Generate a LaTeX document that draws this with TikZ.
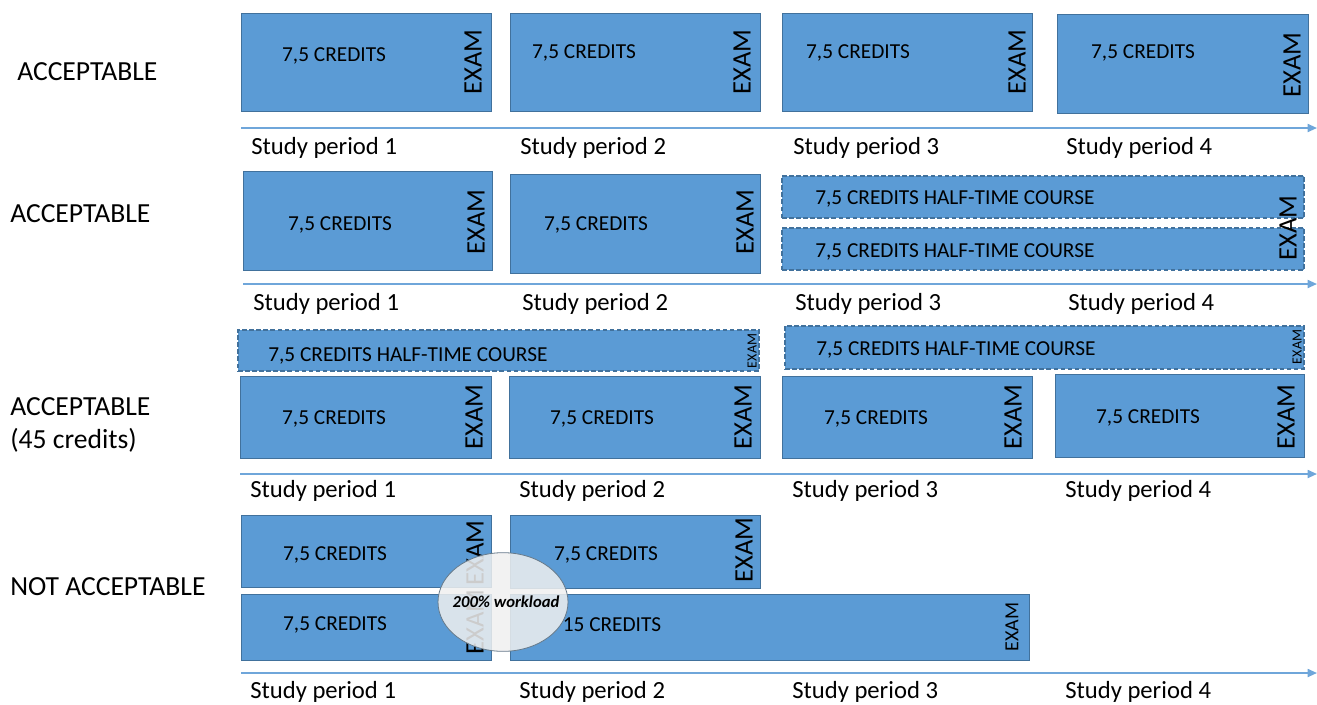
\documentclass[tikz,border=0pt]{standalone}
\usepackage{fontspec}
\setmainfont{Carlito}
\usepackage{xcolor}
\usepackage{tikz}
\usetikzlibrary{fit,shapes.geometric,arrows.meta}
\definecolor{boxblue}{HTML}{5B9BD5}
\definecolor{edgeblue}{HTML}{41719C}
\definecolor{lineblue}{HTML}{6FA6DA}
\tikzset{
  course/.style={draw=edgeblue, fill=boxblue, inner sep=0pt, line width=0.75pt},
  halfcourse/.style={course, dash pattern=on 3.5pt off 1.8pt, line width=1.6pt},
  credits/.style={font=\fontsize{16}{19}\selectfont, inner sep=0pt, yshift=-1.5pt},
  halftext/.style={credits, anchor=west},
  exam/.style={rotate=90, font=\fontsize{20}{24}\selectfont, inner sep=0pt},
  smallexam/.style={exam, font=\fontsize{10.5}{12}\selectfont},
  midexam/.style={exam, font=\fontsize{15}{18}\selectfont},
  period/.style={anchor=west, font=\fontsize{18.5}{22}\selectfont, inner sep=0pt, yshift=-1.5pt},
  verdict/.style={anchor=west, font=\fontsize{20.7}{25}\selectfont, inner sep=0pt},
  timeline/.style={lineblue, line width=1.3pt, -{Triangle[length=7pt,width=6pt]}},
  workload/.style={ellipse, draw=gray!60!edgeblue, line width=0.6pt, fill=gray!12,
    fill opacity=0.85, minimum width=97.5pt, minimum height=74pt, inner sep=0pt},
  loadtext/.style={inner sep=0pt, font=\fontsize{12.5}{15}\selectfont\bfseries\itshape}
}

\begin{document}
\begin{tikzpicture}[x=0.75pt, y=-0.75pt]
  \useasboundingbox (0,0) rectangle (1317,704);

  % Row 1: four full-time courses
  \node[verdict] (v1) at (17,72) {ACCEPTABLE};
  \node[course, fit={(241,13) (491,111)}] (r1a) {};
  \node[course, fit={(510,13) (760,111)}] (r1b) {};
  \node[course, fit={(782,13) (1032,111)}] (r1c) {};
  \node[course, fit={(1057,14) (1308,113)}] (r1d) {};
  \node[credits] (c1a) at (334,54) {7,5 CREDITS};
  \node[credits] (c1b) at (584,51) {7,5 CREDITS};
  \node[credits] (c1c) at (858,51) {7,5 CREDITS};
  \node[credits] (c1d) at (1143,51) {7,5 CREDITS};
  \node[exam] (e1a) at (473,62) {EXAM};
  \node[exam] (e1b) at (742,62) {EXAM};
  \node[exam] (e1c) at (1017,62) {EXAM};
  \node[exam] (e1d) at (1292,65) {EXAM};
  % Timeline
  \coordinate (t1s) at (241,128);
  \coordinate (t1e) at (1317,128);
  \draw[timeline] (t1s) -- (t1e);
  \node[period] (p1a) at (251,146) {Study period 1};
  \node[period] (p1b) at (520,146) {Study period 2};
  \node[period] (p1c) at (793,146) {Study period 3};
  \node[period] (p1d) at (1066,146) {Study period 4};

  % Row 2: two courses, then two half-time courses
  \node[verdict] (v2) at (10,214) {ACCEPTABLE};
  \node[course, fit={(243,171) (492,270)}] (r2a) {};
  \node[course, fit={(510,174) (760,273)}] (r2b) {};
  \node[halfcourse, fit={(782,176) (1304,218)}] (r2c) {};
  \node[halfcourse, fit={(782,228) (1304,270)}] (r2d) {};
  \node[credits] (c2a) at (340,223) {7,5 CREDITS};
  \node[credits] (c2b) at (596,223) {7,5 CREDITS};
  \node[halftext] (c2c) at (815,197) {7,5 CREDITS HALF-TIME COURSE};
  \node[halftext] (c2d) at (815,250) {7,5 CREDITS HALF-TIME COURSE};
  \node[exam] (e2a) at (476,222) {EXAM};
  \node[exam] (e2b) at (745,222) {EXAM};
  \node[exam] (e2c) at (1288,228) {EXAM};
  % Timeline
  \coordinate (t2s) at (243,284);
  \coordinate (t2e) at (1317,284);
  \draw[timeline] (t2s) -- (t2e);
  \node[period] (p2a) at (253,302) {Study period 1};
  \node[period] (p2b) at (522,302) {Study period 2};
  \node[period] (p2c) at (795,302) {Study period 3};
  \node[period] (p2d) at (1068,302) {Study period 4};

  % Row 3: half-time courses on top of full-time courses
  \node[verdict] (v3) at (10,407) {ACCEPTABLE};
  \node[verdict] (v3b) at (10,440) {(45 credits)};
  \node[halfcourse, fit={(238,330) (759,371)}] (r3e) {};
  \node[halfcourse, fit={(785,326) (1304,369)}] (r3f) {};
  \node[halftext] (c3e) at (268,354) {7,5 CREDITS HALF-TIME COURSE};
  \node[halftext] (c3f) at (816,348) {7,5 CREDITS HALF-TIME COURSE};
  \node[smallexam] (e3e) at (752,351) {EXAM};
  \node[smallexam] (e3f) at (1297,347) {EXAM};
  \node[course, fit={(240,376) (491,458)}] (r3a) {};
  \node[course, fit={(509,376) (760,458)}] (r3b) {};
  \node[course, fit={(782,376) (1032,458)}] (r3c) {};
  \node[course, fit={(1055,374) (1304,457)}] (r3d) {};
  \node[credits] (c3a) at (334,417) {7,5 CREDITS};
  \node[credits] (c3b) at (602,417) {7,5 CREDITS};
  \node[credits] (c3c) at (876,417) {7,5 CREDITS};
  \node[credits] (c3d) at (1148,416) {7,5 CREDITS};
  \node[exam] (e3a) at (474,417) {EXAM};
  \node[exam] (e3b) at (743,417) {EXAM};
  \node[exam] (e3c) at (1013,417) {EXAM};
  \node[exam] (e3d) at (1286,417) {EXAM};
  % Timeline
  \coordinate (t3s) at (240,474);
  \coordinate (t3e) at (1317,474);
  \draw[timeline] (t3s) -- (t3e);
  \node[period] (p3a) at (250,489) {Study period 1};
  \node[period] (p3b) at (519,489) {Study period 2};
  \node[period] (p3c) at (792,489) {Study period 3};
  \node[period] (p3d) at (1065,489) {Study period 4};

  % Row 4: overlapping courses
  \node[verdict] (v4) at (10,587) {NOT ACCEPTABLE};
  \node[course, fit={(241,515) (491,587)}] (r4a) {};
  \node[course, fit={(510,515) (760,588)}] (r4b) {};
  \node[course, fit={(241,594) (491,660)}] (r4c) {};
  \node[course, fit={(510,594) (1029,660)}] (r4d) {};
  \node[credits] (c4a) at (335,553) {7,5 CREDITS};
  \node[credits] (c4b) at (606,553) {7,5 CREDITS};
  \node[credits] (c4c) at (335,623) {7,5 CREDITS};
  \node[credits] (c4d) at (612,623) {15 CREDITS};
  \node[exam] (e4a) at (475,553) {EXAM};
  \node[exam] (e4b) at (744,550) {EXAM};
  \node[exam] (e4c) at (475,622) {EXAM};
  \node[midexam] (e4d) at (1012,627) {EXAM};
  % Overload marker
  \node[workload] (load) at (503,602) {};
  \node[loadtext] (loadlbl) at (506,602) {200\% workload};
  % Timeline
  \coordinate (t4s) at (241,673);
  \coordinate (t4e) at (1317,673);
  \draw[timeline] (t4s) -- (t4e);
  \node[period] (p4a) at (250,690) {Study period 1};
  \node[period] (p4b) at (519,690) {Study period 2};
  \node[period] (p4c) at (792,690) {Study period 3};
  \node[period] (p4d) at (1065,690) {Study period 4};
\end{tikzpicture}
\end{document}
